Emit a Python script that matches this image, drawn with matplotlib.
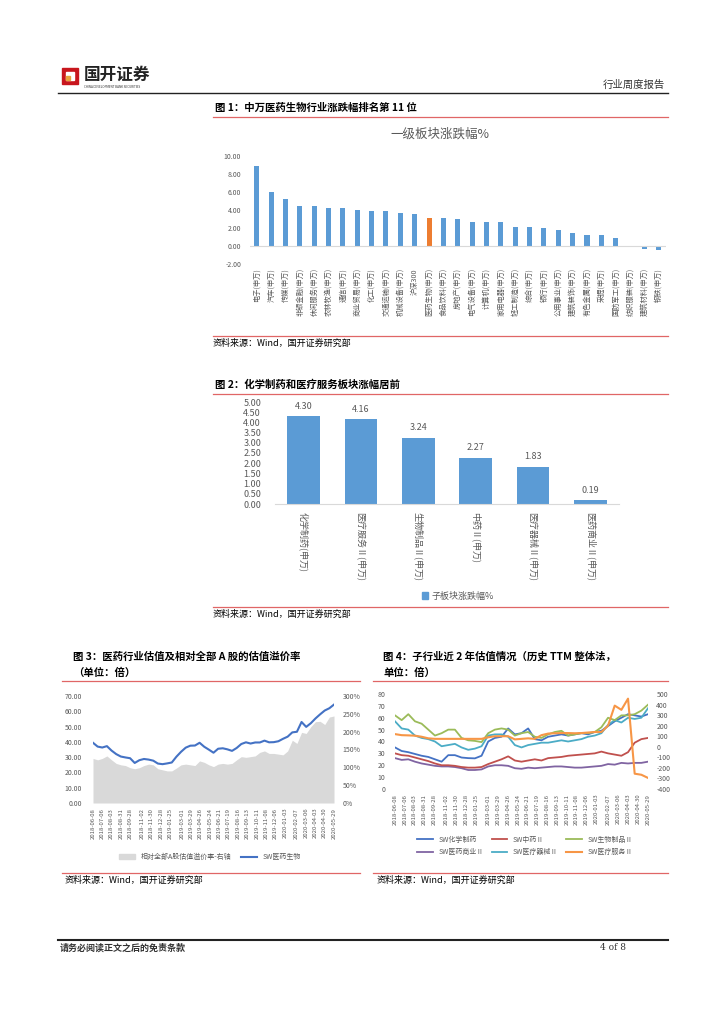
import numpy as np
import pandas as pd
import matplotlib
matplotlib.use("Agg")
import matplotlib.pyplot as plt
from matplotlib.lines import Line2D
from matplotlib.patches import Rectangle, Patch

plt.rcParams['font.family'] = ['Noto Sans CJK SC', 'DejaVu Sans']

# ---- data: figure 1 (一级板块涨跌幅%)
sectors = ["电子", "汽车", "传媒", "非银金融", "休闲服务", "农林牧渔", "通信", "商业贸易",
           "化工", "交通运输", "机械设备", "沪深300", "医药生物", "食品饮料", "房地产",
           "电气设备", "计算机", "家用电器", "轻工制造", "综合", "银行", "公用事业",
           "建筑装饰", "有色金属", "采掘", "国防军工", "纺织服装", "建筑材料", "钢铁"]
sector_chg = [8.85, 6.04, 5.26, 4.48, 4.41, 4.26, 4.26, 3.96, 3.93, 3.93, 3.63, 3.52,
              3.15, 3.15, 3.04, 2.70, 2.70, 2.67, 2.15, 2.07, 2.00, 1.78, 1.41, 1.26,
              1.26, 0.93, -0.08, -0.30, -0.40]
highlight = "医药生物"

# ---- data: figure 2 (子板块涨跌幅%)
sub_names = ["化学制药", "医疗服务Ⅱ", "生物制品Ⅱ", "中药Ⅱ", "医疗器械Ⅱ", "医药商业Ⅱ"]
sub_chg = [4.30, 4.16, 3.24, 2.27, 1.83, 0.19]

# ---- data: figure 3 (PE of SW医药生物, premium vs all A shares)
tick_dates = ["2018-06-08", "2018-07-06", "2018-08-03", "2018-08-31", "2018-09-28",
              "2018-11-02", "2018-11-30", "2018-12-28", "2019-01-25", "2019-03-01",
              "2019-03-29", "2019-04-26", "2019-05-24", "2019-06-21", "2019-07-19",
              "2019-08-16", "2019-09-13", "2019-10-11", "2019-11-08", "2019-12-06",
              "2020-01-03", "2020-02-07", "2020-03-06", "2020-04-03", "2020-04-30",
              "2020-05-29"]
pe_health = [39.4, 36.9, 36.3, 37.2, 34.3, 32.0, 30.4, 29.8, 29.3, 26.2, 28.0, 28.8,
             28.4, 27.7, 25.8, 25.4, 25.9, 26.5, 30.3, 33.5, 36.2, 37.5, 37.6, 39.4,
             36.8, 34.9, 32.9, 35.5, 35.8, 35.1, 34.1, 36.0, 38.6, 39.7, 38.9, 39.6,
             39.6, 40.8, 39.7, 39.8, 40.4, 42.0, 43.4, 46.2, 46.6, 53.0, 49.8, 52.2,
             55.3, 58.0, 60.5, 62.0, 64.4]
premium = [125, 121, 125, 132, 121, 111, 107, 105, 99, 96, 99, 105, 109, 107, 96, 93,
           90, 90, 98, 107, 109, 107, 105, 118, 114, 107, 102, 109, 111, 109, 111, 121,
           130, 128, 130, 132, 142, 146, 139, 139, 137, 135, 146, 176, 167, 198, 195,
           214, 228, 229, 220, 241, 244]

# ---- data: figure 4 (sub-sector PE TTM)
chem = [35, 32, 31, 29.5, 28, 27, 25, 23, 28.5, 28.5, 26.5, 26, 25.8, 28, 40, 43, 44,
        51, 46, 47, 51, 42, 41, 44, 45, 46, 45, 46, 47, 46, 48, 49, 53, 57, 60, 63, 62,
        61, 63]
tcm = [30, 28.5, 28, 26.5, 25, 23.5, 21.5, 20, 20, 19.5, 18.5, 18, 18, 18.5, 21, 23,
       25, 27.5, 24, 23, 24, 25, 24, 26, 26.5, 27, 28, 28.5, 29, 29.5, 30, 31.5, 30,
       29, 28, 31, 39, 42, 43]
bio = [62, 58, 63, 57, 55, 50, 45, 47, 50, 50, 43, 41, 40.5, 39.5, 47, 50, 51, 50, 45,
       47, 48, 44, 43, 46, 48, 49, 45, 46, 47, 47, 48, 52, 60, 58, 62, 62, 63, 66, 71]
commerce = [26, 24.5, 25, 23, 21.5, 20.5, 19.5, 19, 19, 18.5, 17.5, 16, 16, 16.5, 19,
            20, 20, 19.5, 17.5, 17, 18, 17.5, 18, 18.5, 19, 19, 18.5, 18, 18, 18.5, 19,
            19.5, 21, 20.5, 22, 21.5, 22, 22, 23]
device = [57, 51, 50, 45, 43, 42, 40, 36, 37, 38, 35, 33, 34, 36, 45, 46, 46, 44, 37,
          35, 37, 38, 39, 39, 40, 41, 40, 41, 42, 44, 45, 47, 54, 58, 56, 60, 59, 60, 68]
service = [120, 110, 108, 105, 95, 80, 75, 75, 75, 75, 75, 75, 75, 75, 90, 100, 100,
           100, 70, 75, 80, 75, 110, 125, 128, 130, 130, 128, 130, 135, 140, 140, 200,
           390, 350, 456, -255, -265, -295]

W, H = 724, 1024
fig = plt.figure(figsize=(W / 100, H / 100), dpi=100)
GRAY = "#595959"
RED = "#E06666"


def box(x0, y0, x1, y1):
    return fig.add_axes([x0 / W, 1 - y1 / H, (x1 - x0) / W, (y1 - y0) / H])


def txt(x, y, s, **kw):
    kw.setdefault("va", "center")
    fig.text(x / W, 1 - y / H, s, **kw)


def hline(x0, x1, y, color=RED, lw=0.9):
    fig.add_artist(Line2D([x0 / W, x1 / W], [1 - y / H] * 2, color=color, lw=lw))


def clean(ax):
    for s in ax.spines.values():
        s.set_visible(False)
    ax.tick_params(length=0, colors=GRAY)


# ---- page header
fig.add_artist(Rectangle((62 / W, 1 - 84 / H), 16 / W, 16 / H, color="#C8161D"))
fig.add_artist(Rectangle((66 / W, 1 - 80 / H), 8 / W, 8 / H, color="white"))
fig.add_artist(Rectangle((66 / W, 1 - 80 / H), 4 / W, 4 / H, color="#E8A33D"))
txt(84, 75, "国开证券", fontsize=12, fontweight="bold", color="#222222")
txt(84, 87, "CHINA DEVELOPMENT BANK SECURITIES", fontsize=2.2, color="#333333")
txt(665, 85, "行业周度报告", fontsize=7.5, ha="right", color="#333333")
hline(58, 668, 93, color="#222222", lw=1.0)

# ---- figure 1
txt(215, 108, "图 1：中万医药生物行业涨跌幅排名第 11 位", fontsize=7.5, fontweight="bold")
hline(213, 668, 117)
txt(440, 134, "一级板块涨跌幅%", fontsize=9, ha="center", color=GRAY)
ax1 = box(249.5, 156, 666, 264)
colors1 = ["#ED7D31" if s == highlight else "#5B9BD5" for s in sectors]
ax1.bar(np.arange(len(sectors)), sector_chg, width=0.35, color=colors1)
ax1.axhline(0, color="#D9D9D9", lw=0.8)
ax1.set_ylim(-2, 10)
ax1.set_xlim(-0.5, len(sectors) - 0.5)
ax1.set_yticks(np.arange(-2, 10.1, 2))
ax1.set_yticklabels([f"{v:.2f}" for v in np.arange(-2, 10.1, 2)], fontsize=5)
ax1.set_xticks(np.arange(len(sectors)))
ax1.set_xticklabels([s if s == "沪深300" else s + "(申万)" for s in sectors],
                    rotation=90, fontsize=5.2)
clean(ax1)
ax1.tick_params(axis="y", pad=6)
ax1.tick_params(axis="x", pad=3)
hline(213, 668, 336)
txt(213, 343, "资料来源：Wind，国开证券研究部", fontsize=6.5)

# ---- figure 2
txt(215, 385, "图 2：化学制药和医疗服务板块涨幅居前", fontsize=7.5, fontweight="bold")
hline(213, 668, 394)
ax2 = box(275, 402, 619, 504)
bars = ax2.bar(np.arange(len(sub_names)), sub_chg, width=0.575, color="#5B9BD5")
ax2.bar_label(bars, fmt="%.2f", padding=4, fontsize=6.5, color=GRAY)
ax2.set_ylim(0, 5)
ax2.set_xlim(-0.5, len(sub_names) - 0.5)
ax2.set_yticks(np.arange(0, 5.01, 0.5))
ax2.set_yticklabels([f"{v:.2f}" for v in np.arange(0, 5.01, 0.5)], fontsize=6.5)
ax2.set_xticks(np.arange(len(sub_names)))
ax2.set_xticklabels([s + "(申万)" for s in sub_names], rotation=270, fontsize=6.5,
                    va="top")
clean(ax2)
ax2.spines["bottom"].set_visible(True)
ax2.spines["bottom"].set_color("#D9D9D9")
ax2.tick_params(axis="y", pad=10)
ax2.tick_params(axis="x", pad=6)
fig.legend(handles=[Patch(color="#5B9BD5", label="子板块涨跌幅%")], loc="center",
           bbox_to_anchor=(458 / W, 1 - 596 / H), frameon=False, fontsize=6.5,
           handlelength=0.7, handleheight=0.7, handletextpad=0.4, labelcolor=GRAY)
hline(213, 668, 607)
txt(213, 614, "资料来源：Wind，国开证券研究部", fontsize=6.5)

# ---- figure 3
txt(73, 657, "图 3：医药行业估值及相对全部 A 股的估值溢价率", fontsize=7.5, fontweight="bold")
txt(73, 673, "（单位：倍）", fontsize=7.5, fontweight="bold")
hline(62, 360, 681)
ticks = pd.to_datetime(tick_dates)
d3 = pd.to_datetime(np.linspace(ticks[0].value, ticks[-1].value, len(pe_health)))
ax3 = box(93, 696, 334, 803)
ax3r = ax3.twinx()
ax3r.fill_between(d3, premium, color="#D9D9D9", lw=0)
ax3.plot(d3, pe_health, color="#4472C4", lw=1.5)
ax3.set_zorder(ax3r.get_zorder() + 1)
ax3.patch.set_visible(False)
ax3.set_ylim(0, 70)
ax3.set_yticks(np.arange(0, 71, 10))
ax3.set_yticklabels([f"{v:.2f}" for v in np.arange(0, 71, 10)], fontsize=5)
ax3r.set_ylim(0, 300)
ax3r.set_yticks(np.arange(0, 301, 50))
ax3r.set_yticklabels([f"{v}%" for v in range(0, 301, 50)], fontsize=5)
ax3.set_xlim(ticks[0], ticks[-1])
ax3.set_xticks(ticks)
ax3.set_xticklabels(tick_dates, rotation=90, fontsize=4.3)
for a in (ax3, ax3r):
    clean(a)
ax3.tick_params(axis="y", pad=8)
ax3r.tick_params(axis="y", pad=6)
fig.legend(handles=[Patch(color="#D9D9D9", label="相对全部A股估值溢价率-右轴"),
                    Line2D([], [], color="#4472C4", lw=1.5, label="SW医药生物")],
           loc="center", ncol=2, bbox_to_anchor=(210 / W, 1 - 857 / H), frameon=False,
           fontsize=5, handlelength=2.2, handleheight=0.6, columnspacing=1.5,
           labelcolor=GRAY)
hline(62, 360, 873)
txt(65, 880, "资料来源：Wind，国开证券研究部", fontsize=6.5)

# ---- figure 4
txt(383, 657, "图 4：子行业近 2 年估值情况（历史 TTM 整体法，", fontsize=7.5, fontweight="bold")
txt(383, 673, "单位：倍）", fontsize=7.5, fontweight="bold")
hline(373, 668, 681)
d4 = pd.to_datetime(np.linspace(ticks[0].value, ticks[-1].value, len(chem)))
ax4 = box(395, 694, 648, 789)
ax4r = ax4.twinx()
series = [("SW化学制药", chem, "#4472C4"), ("SW医药商业Ⅱ", commerce, "#8064A2"),
          ("SW中药Ⅱ", tcm, "#C0504D"), ("SW医疗器械Ⅱ", device, "#4BACC6"),
          ("SW生物制品Ⅱ", bio, "#9BBB59")]
handles = []
for name, vals, col in series:
    h, = ax4.plot(d4, vals, color=col, lw=1.3, label=name)
    handles.append(h)
hs, = ax4r.plot(d4, service, color="#F79646", lw=1.5, label="SW医疗服务Ⅱ")
handles.append(hs)
ax4.set_ylim(0, 80)
ax4.set_yticks(np.arange(0, 81, 10))
ax4.set_yticklabels([str(v) for v in range(0, 81, 10)], fontsize=5)
ax4r.set_ylim(-400, 500)
ax4r.set_yticks(np.arange(-400, 501, 100))
ax4r.set_yticklabels([str(v) for v in range(-400, 501, 100)], fontsize=5)
ax4.set_xlim(ticks[0], ticks[-1])
ax4.set_xticks(ticks)
ax4.set_xticklabels(tick_dates, rotation=90, fontsize=4.3)
for a in (ax4, ax4r):
    clean(a)
ax4.tick_params(axis="y", pad=7)
ax4r.tick_params(axis="y", pad=6)
fig.legend(handles=handles, loc="center", ncol=3, bbox_to_anchor=(525 / W, 1 - 846 / H),
           frameon=False, fontsize=5, handlelength=2.2, columnspacing=1.2,
           labelspacing=0.6, labelcolor=GRAY)
hline(373, 668, 873)
txt(377, 880, "资料来源：Wind，国开证券研究部", fontsize=6.5)

# ---- footer
hline(58, 668, 940, color="#222222", lw=1.5)
txt(60, 948, "请务必阅读正文之后的免责条款", fontsize=6.5, fontweight="bold", color="#333333")
txt(600, 948, "4 of 8", fontsize=6.5, family="DejaVu Serif", color="#333333")

fig.savefig("out.png", dpi=100)
